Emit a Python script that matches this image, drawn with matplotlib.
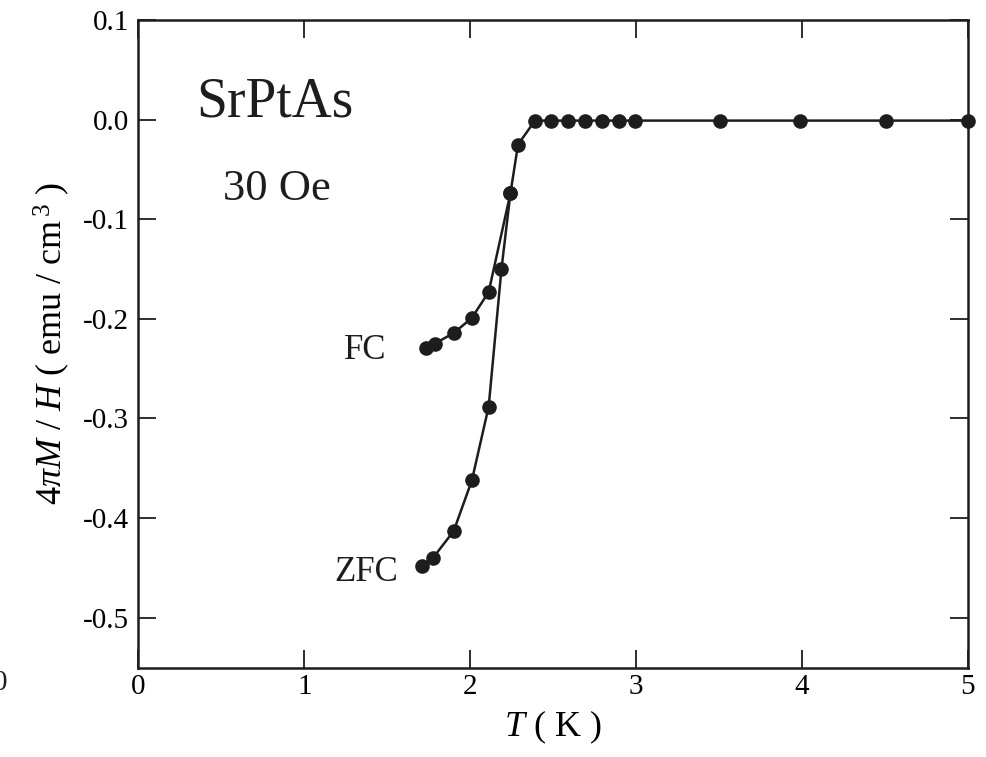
import matplotlib
matplotlib.use("Agg")
import matplotlib.pyplot as plt

plt.rcParams['font.family'] = ['Liberation Serif', 'DejaVu Serif']
plt.rcParams['mathtext.fontset'] = 'custom'
plt.rcParams['mathtext.rm'] = 'Liberation Serif'
plt.rcParams['mathtext.it'] = 'Liberation Serif:italic'
plt.rcParams['mathtext.bf'] = 'Liberation Serif:bold'

# ZFC curve
T_zfc = [1.709, 1.775, 1.90, 2.010, 2.111, 2.188, 2.242, 2.288, 2.390, 2.489, 2.589,
         2.693, 2.795, 2.895, 2.995, 3.508, 3.987, 4.504, 5.0]
M_zfc = [-0.448, -0.440, -0.413, -0.362, -0.288, -0.150, -0.074, -0.025, -0.001, -0.001,
         -0.001, -0.001, -0.001, -0.001, -0.001, -0.001, -0.001, -0.001, -0.001]
# FC curve
T_fc = [1.735, 1.785, 1.902, 2.010, 2.111, 2.242]
M_fc = [-0.229, -0.225, -0.214, -0.199, -0.173, -0.074]

xticks = [0, 1, 2, 3, 4, 5]
yticks = [0.1, 0.0, -0.1, -0.2, -0.3, -0.4, -0.5]
ytick_labels = ['0.1', '0.0', '-0.1', '-0.2', '-0.3', '-0.4', '-0.5']

col = '#1f1c1d'

fig = plt.figure(figsize=(9.87, 7.57), dpi=100)
ax = fig.add_axes([0.1403, 0.1182, 0.8404, 0.8554])

ax.plot(T_fc, M_fc, '-o', color=col, lw=1.8, ms=9.5, clip_on=False, zorder=3)
ax.plot(T_zfc, M_zfc, '-o', color=col, lw=1.8, ms=9.5, clip_on=False, zorder=3)

ax.set_xlim(0, 5)
ax.set_ylim(-0.55, 0.1)
ax.set_xticks(xticks)
ax.set_xticklabels([str(t) for t in xticks])
ax.set_yticks(yticks)
ax.set_yticklabels(ytick_labels)

ax.tick_params(direction='in', length=13, width=1.3, labelsize=21, color=col,
               top=True, right=True, labeltop=False, labelright=False)
ax.tick_params(axis='x', pad=5)
ax.tick_params(axis='y', pad=7)
for s in ax.spines.values():
    s.set_linewidth(1.8)
    s.set_color(col)

ax.set_xlabel(r'$T$ ( K )', fontsize=26, labelpad=6)
ax.set_ylabel(r'4$\pi$$M$ / $H$ ( emu / cm$^{\,3}$ )', fontsize=26, labelpad=8)

ax.text(0.35, 0.003, 'SrPtAs', fontsize=40, ha='left', va='baseline', color=col)
ax.text(0.507, -0.081, '30 Oe', fontsize=32, ha='left', va='baseline', color=col)
ax.text(1.496, -0.240, 'FC', fontsize=25, ha='right', va='baseline', color=col)
ax.text(1.562, -0.463, 'ZFC', fontsize=25, ha='right', va='baseline', color=col)

fig.text(0.0, 1 - 683 / 757, '0', fontsize=21, ha='center', va='center', color=col)

fig.savefig('out.png', dpi=100)
